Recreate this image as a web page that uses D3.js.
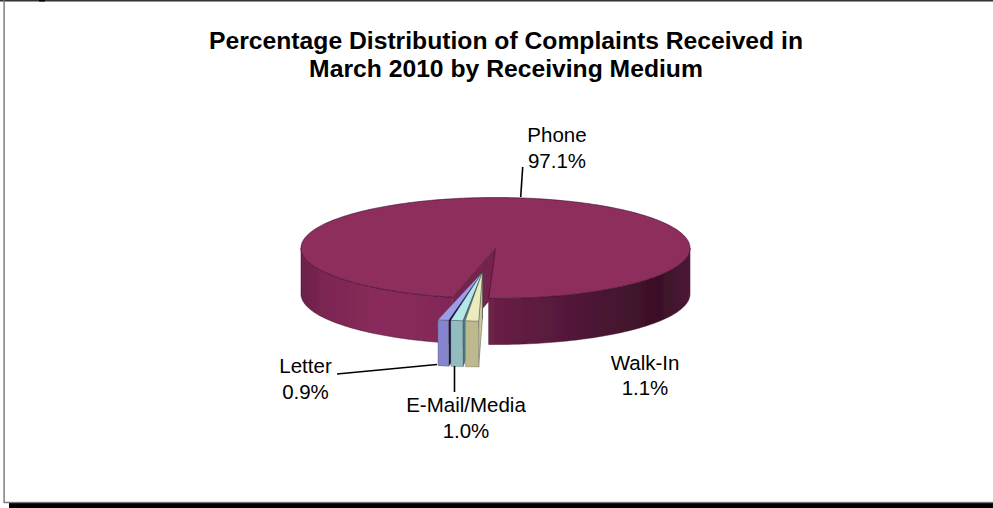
<!DOCTYPE html>
<html>
<head>
<meta charset="utf-8">
<script src="https://cdn.jsdelivr.net/npm/d3@7"></script>
<style>
  html, body { margin: 0; padding: 0; background: #fff; }
  svg { display: block; }
  text { font-family: "Liberation Sans", Arial, sans-serif; fill: #000; }
</style>
</head>
<body>
<svg id="chart" width="993" height="508"></svg>
<script>
// Share of complaints by receiving medium, March 2010
const categories = ["Phone", "Walk-In", "E-Mail/Media", "Letter"];
const shares = [97.1, 1.1, 1.0, 0.9];
const titleLines = [
  "Percentage Distribution of Complaints Received in",
  "March 2010 by Receiving Medium"
];
const topColors = ["#8e2d5d", "#ecebbd", "#b4e8e8", "#9c9cea"];
const frontColors = ["#84285a", "#bdb98f", "#92bcc0", "#8484cf"];
const sideColors = ["#75234e", "#c9c59c", "#4f7c84", "#0c0c38"];

const svg = d3.select("#chart");
const W = 993, H = 508;

// Page frame with its heavy shadow along the bottom
svg.append("rect").attr("x", 0).attr("y", 0).attr("width", W).attr("height", 1.5).attr("fill", "#333");
svg.append("rect").attr("x", 39).attr("y", 0).attr("width", 6).attr("height", 1.5).attr("fill", "#000");
svg.append("rect").attr("x", 3.4).attr("y", 0).attr("width", 1.4).attr("height", 502).attr("fill", "#777");
svg.append("rect").attr("x", 9).attr("y", 503).attr("width", W - 9).attr("height", 5).attr("fill", "#000");
svg.append("rect").attr("x", 3.4).attr("y", 501.8).attr("width", W - 3.4).attr("height", 1.4).attr("fill", "#777");

svg.append("text")
  .attr("text-anchor", "middle")
  .attr("font-weight", "bold")
  .attr("font-size", 24.7)
  .selectAll("tspan").data(titleLines).join("tspan")
  .attr("x", 506)
  .attr("y", (d, i) => 48.5 + i * 28)
  .text(d => d);

// Oblique projection of the unit disc onto the page
const px = d3.scaleLinear().domain([-1, 1]).range([301, 690]);
const py = d3.scaleLinear().domain([-1, 1]).range([197.5, 298.5]);
const depth = 46;
const deg = Math.PI / 180;

const pie = d3.pie().sort(null).value(d => d)
  .startAngle(192.8 * deg).endAngle((192.8 + 360) * deg);
const slices = pie(shares);

const rimPoint = a => [px(Math.sin(a)), py(-Math.cos(a))];
const centre = [px(0), py(0)];
const toPath = d3.line();

function arcPoints(a0, a1) {
  const n = Math.max(2, Math.ceil(Math.abs(a1 - a0) / (1 * deg)));
  return d3.range(n + 1).map(i => rimPoint(a0 + (a1 - a0) * i / n));
}
const shifted = (pts, dx, dy) => pts.map(p => [p[0] + dx, p[1] + dy]);

const defs = svg.append("defs");
defs.append("filter").attr("id", "soft")
  .append("feGaussianBlur").attr("stdDeviation", 0.4);

// Shading along the outer wall of the large slice
const wall = defs.append("linearGradient").attr("id", "wall")
  .attr("gradientUnits", "userSpaceOnUse")
  .attr("x1", px(-1)).attr("x2", px(1)).attr("y1", 0).attr("y2", 0);
[[0, "#6a2049"], [0.06, "#7c2653"], [0.2, "#8a2b5b"], [0.36, "#842859"], [0.47, "#7a2450"],
 [0.5, "#6a1f45"], [0.7, "#52183a"], [0.92, "#3a1026"], [1, "#4c1a36"]]
  .forEach(([o, c]) => wall.append("stop").attr("offset", o).attr("stop-color", c));

const pieGroup = svg.append("g").attr("filter", "url(#soft)");
const edge = "#3c0f2a";

// Large slice: outer wall, cut wall and top face
const big = slices[0];
const frontRight = arcPoints(big.endAngle - 2 * Math.PI, Math.PI / 2);
const frontLeft = arcPoints(3 * Math.PI / 2, big.startAngle);

[frontRight, frontLeft].forEach(pts => {
  const outline = pts.concat(shifted(pts, 0, depth).reverse());
  pieGroup.append("path")
    .attr("d", toPath(outline) + "Z")
    .attr("fill", "url(#wall)")
    .attr("stroke", edge).attr("stroke-width", 0.5);
});

const cutEdge = rimPoint(big.startAngle);
pieGroup.append("path")
  .attr("d", toPath([centre, cutEdge, [cutEdge[0], cutEdge[1] + depth], [centre[0], centre[1] + depth]]) + "Z")
  .attr("fill", sideColors[0]);

const topOutline = [centre].concat(arcPoints(big.startAngle, big.endAngle));
pieGroup.append("path")
  .attr("d", toPath(topOutline) + "Z")
  .attr("fill", topColors[0])
  .attr("stroke", edge).attr("stroke-width", 0.6);

// Pulled-out slices share one tip; painted from the left so nearer cut faces overlap correctly
const tip = [centre[0] - 13, centre[1] + 24];
const small = slices.slice(1).map((s, i) => ({ s, i: i + 1 })).reverse();
small.forEach(({ s, i }) => {
  const mid = (s.startAngle + s.endAngle) / 2;
  const dx = -7.5 + 36 * Math.sin(mid);
  const dy = 22.5;
  const rim = shifted(arcPoints(s.startAngle, s.endAngle), dx, dy);
  const right = rim[0];
  const sideFace = [tip, right, [right[0], right[1] + depth], [tip[0], tip[1] + depth]];
  pieGroup.append("path").attr("d", toPath(sideFace) + "Z")
    .attr("fill", sideColors[i]).attr("stroke", "#333").attr("stroke-width", 0.4);
  const front = rim.concat(shifted(rim, 0, depth).reverse());
  pieGroup.append("path").attr("d", toPath(front) + "Z")
    .attr("fill", frontColors[i]).attr("stroke", "#555").attr("stroke-width", 0.3);
  pieGroup.append("path").attr("d", toPath([tip].concat(rim)) + "Z")
    .attr("fill", topColors[i]).attr("stroke", "#333").attr("stroke-width", 0.3);
});

// Leader lines
const leaders = [
  [[522.7, 167], [520.7, 197]],
  [[337, 374], [437, 364.5]],
  [[454.5, 366], [454.5, 392]]
];
svg.append("g").selectAll("path").data(leaders).join("path")
  .attr("d", d => toPath(d))
  .attr("stroke", "#000").attr("stroke-width", 1.6).attr("fill", "none");

// Category and percentage labels, in the order of the shares
const labelX = [557, 645, 466, 305.5];
const labelY = [142, 369.5, 412, 373];
const labels = svg.append("g").attr("text-anchor", "middle").attr("font-size", 20.5);
categories.forEach((name, i) => {
  labels.append("text").attr("x", labelX[i]).attr("y", labelY[i]).text(name);
  labels.append("text").attr("x", labelX[i]).attr("y", labelY[i] + 25.5).text(shares[i].toFixed(1) + "%");
});
</script>
</body>
</html>
